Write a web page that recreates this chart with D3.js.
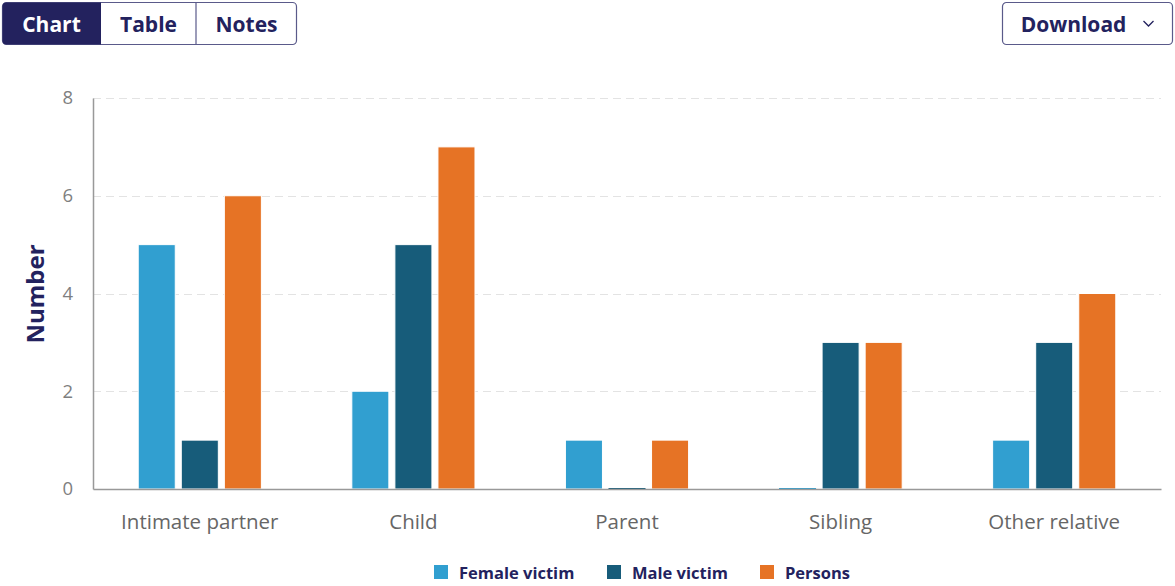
<!DOCTYPE html>
<html><head><meta charset="utf-8">
<script src="https://cdn.jsdelivr.net/npm/d3@7"></script>
<style>
body{margin:0;background:#fff;font-family:"Open Sans",sans-serif;}
svg{display:block;}
</style></head>
<body>
<svg id="c" width="1175" height="586"></svg>
<script>
const categories = ["Intimate partner","Child","Parent","Sibling","Other relative"];
const seriesNames = ["Female victim","Male victim","Persons"];
const femaleVictim = [5,2,1,0,1];
const maleVictim = [1,5,0,3,3];
const persons = [6,7,1,3,4];
const yTicks = [0,2,4,6,8];
const colors = ["#319fd0","#175c7a","#e67325"];
const seriesValues = [femaleVictim, maleVictim, persons];

(function(){
const svg = d3.select("#c");
const navy = "#23225e";

// Top buttons
const tabs = ["Chart","Table","Notes"];
const tabX = [2,101,196,297];
const tg = svg.append("g");
tg.append("rect").attr("x",2.5).attr("y",2.5).attr("width",294).attr("height",42).attr("rx",4)
  .attr("fill","#fff").attr("stroke","#5a5a8a").attr("stroke-width",1.2);
tg.append("path").attr("d",`M${tabX[1]},2.5 H6.5 A4,4 0 0 0 2.5,6.5 V40.5 A4,4 0 0 0 6.5,44.5 H${tabX[1]} Z`).attr("fill",navy);
tg.append("line").attr("x1",tabX[2]).attr("x2",tabX[2]).attr("y1",2.5).attr("y2",44.5).attr("stroke","#5a5a8a").attr("stroke-width",1.2);
tabs.forEach((t,i)=>{
  tg.append("text").attr("x",(tabX[i]+tabX[i+1])/2).attr("y",31.5).attr("text-anchor","middle")
    .attr("font-size",21).attr("font-weight",700).attr("fill",i===0?"#fff":navy).text(t);
});
const dg = svg.append("g");
dg.append("rect").attr("x",1002.5).attr("y",2.5).attr("width",170).attr("height",42).attr("rx",4)
  .attr("fill","#fff").attr("stroke","#5a5a8a").attr("stroke-width",1.2);
dg.append("text").attr("x",1073.5).attr("y",31.5).attr("text-anchor","middle").attr("font-size",21)
  .attr("font-weight",700).attr("fill",navy).text("Download");
dg.append("path").attr("d","M1143.5,21 L1148.5,26 L1153.5,21").attr("fill","none").attr("stroke",navy).attr("stroke-width",1.3);

// Chart
const pl=93, pr=1161, pt=98, pb=489;
const x0 = d3.scaleBand().domain(categories).range([pl,pr]).paddingInner(0).paddingOuter(0);
const inner = d3.scaleBand().domain(seriesNames).range([0,x0.bandwidth()]).paddingInner(0.14).paddingOuter(1.05);
const y = d3.scaleLinear().domain([0,8]).range([pb,pt]);

// grid
svg.append("g").selectAll("line").data(yTicks.filter(d=>d>0)).join("line")
  .attr("x1",pl).attr("x2",pr).attr("y1",d=>Math.round(y(d))+0.5).attr("y2",d=>Math.round(y(d))+0.5)
  .attr("stroke","#e3e3e3").attr("stroke-dasharray","8,5").attr("stroke-width",1);

// bars
const groups = svg.append("g").selectAll("g").data(categories).join("g")
  .attr("transform",d=>`translate(${x0(d)},0)`);
groups.selectAll("rect").data((c,ci)=>seriesNames.map((s,si)=>({s,si,v:seriesValues[si][ci]}))).join("rect")
  .attr("x",d=>inner(d.s)).attr("width",inner.bandwidth())
  .attr("y",d=>d.v>0?y(d.v):y(0)-1).attr("height",d=>d.v>0?y(0)-y(d.v):1)
  .attr("fill",d=>colors[d.si]).attr("stroke",d=>d.v>0?"#fff":"none").attr("stroke-width",1);

// axes
const yAxis = d3.axisLeft(y).tickValues(yTicks).tickSize(0).tickPadding(20);
const ya = svg.append("g").attr("transform",`translate(${pl},0)`).call(yAxis);
ya.select(".domain").attr("stroke","#999").attr("stroke-width",1.5);
ya.selectAll("text").attr("font-family","Open Sans").attr("font-size",18.5).attr("fill","#7f7f7f");

const xAxis = d3.axisBottom(x0).tickSize(0).tickPadding(21);
const xa = svg.append("g").attr("transform",`translate(0,${pb})`).call(xAxis);
xa.select(".domain").attr("stroke","#999").attr("stroke-width",1.5);
xa.selectAll("text").attr("font-family","Open Sans").attr("font-size",20.5).attr("fill","#666").attr("dy","0.95em");

// y label
svg.append("text").attr("transform","translate(44,294) rotate(-90)").attr("text-anchor","middle")
  .attr("font-size",24).attr("font-weight",700).attr("fill",navy).text("Number");

// legend
const legX = [434,607,760];
const lg = svg.append("g");
seriesNames.forEach((s,i)=>{
  lg.append("rect").attr("x",legX[i]).attr("y",565).attr("width",14).attr("height",14).attr("fill",colors[i]);
  lg.append("text").attr("x",legX[i]+25).attr("y",578.5).attr("font-size",16.5).attr("font-weight",700)
    .attr("fill",navy).text(s);
});
})();
</script>
</body></html>
